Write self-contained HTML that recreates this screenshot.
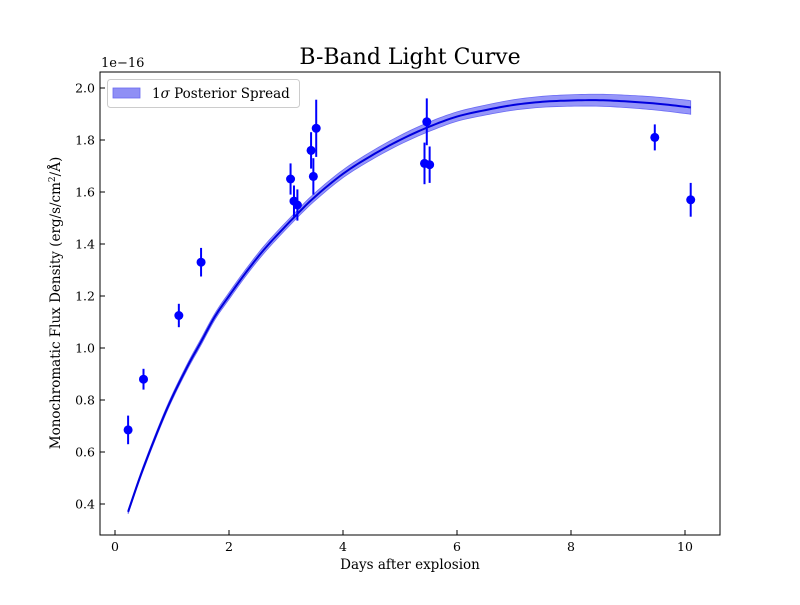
<!DOCTYPE html>
<html><head><meta charset="utf-8"><style>
body{margin:0;background:#fff}
svg text{font-family:"DejaVu Serif","Liberation Serif",serif;fill:#000}
</style></head><body>
<svg id="chart" width="800" height="600" xmlns="http://www.w3.org/2000/svg">
<rect width="800" height="600" fill="#fff"/>
<g id="band"></g>
<g id="curve"></g>
<g id="pts"></g>
<rect x="100" y="72" width="620" height="463" fill="none" stroke="#000" stroke-width="1"/>
<g id="xt"></g>
<g id="yt"></g>
<text x="410" y="64" font-size="22" text-anchor="middle">B-Band Light Curve</text>
<text x="410" y="569" font-size="13.5" text-anchor="middle">Days after explosion</text>
<text transform="translate(60,303) rotate(-90)" font-size="13.5" text-anchor="middle">Monochromatic Flux Density (erg/s/cm<tspan dy="-5" font-size="9">2</tspan><tspan dy="5">/Å)</tspan></text>
<text x="101" y="67" font-size="13">1e−16</text>
<g>
<rect x="107.5" y="79.5" width="192" height="28" rx="3" fill="#fff" stroke="#ccc"/>
<rect x="113" y="88" width="27" height="10" fill="#8f8ff5" stroke="#6a6af0" stroke-width="0.8"/>
<text x="152" y="98" font-size="13.5">1<tspan font-style="italic">σ</tspan> Posterior Spread</text>
</g>
</svg>
<script>
const ptDays=[0.23,0.5,1.12,1.51,3.08,3.14,3.2,3.44,3.48,3.53,5.43,5.47,5.52,9.47,10.1];
const ptFlux=[0.685,0.88,1.125,1.33,1.65,1.565,1.55,1.76,1.66,1.845,1.71,1.87,1.705,1.81,1.57];
const ptErr=[0.055,0.04,0.045,0.055,0.06,0.06,0.06,0.07,0.07,0.11,0.08,0.09,0.07,0.05,0.065];
const curveDays=[0.23,0.5,0.9,1.25,1.5,1.75,2,2.33,2.66,3.13,3.5,4,4.5,5,5.5,6,6.5,7,7.5,8,8.5,9,9.5,10,10.1];
const curveFlux=[0.37,0.54,0.76,0.92,1.02,1.12,1.20,1.30,1.39,1.50,1.58,1.67,1.74,1.80,1.85,1.89,1.915,1.935,1.947,1.952,1.953,1.948,1.94,1.928,1.925];
const curveSigma=[0.008,0.009,0.01,0.011,0.012,0.012,0.013,0.013,0.014,0.014,0.015,0.015,0.016,0.017,0.018,0.018,0.019,0.02,0.021,0.022,0.023,0.024,0.025,0.026,0.026];
const xTicks=[0,2,4,6,8,10];
const yTicks=[0.4,0.6,0.8,1.0,1.2,1.4,1.6,1.8,2.0];
const NS="http://www.w3.org/2000/svg";
const X=d=>115+57*d, Y=v=>504-(v-0.4)*260;
function mk(t,a,p){const e=document.createElementNS(NS,t);for(const k in a)e.setAttribute(k,a[k]);p.appendChild(e);return e;}
function smooth(vals){ // catmull-rom densify
 const out=[];const n=curveDays.length;
 for(let i=0;i<n-1;i++){
  const p0=i>0?i-1:i,p3=i+2<n?i+2:i+1;
  for(let s=0;s<8;s++){const t=s/8,t2=t*t,t3=t2*t;
   const f=(a,b,c,d)=>0.5*(2*b+(-a+c)*t+(2*a-5*b+4*c-d)*t2+(-a+3*b-3*c+d)*t3);
   out.push([f(curveDays[p0],curveDays[i],curveDays[i+1],curveDays[p3]),f(vals[p0],vals[i],vals[i+1],vals[p3])]);}
 }
 out.push([curveDays[n-1],vals[n-1]]);return out;}
const hi=smooth(curveFlux.map((v,i)=>v+curveSigma[i]));
const lo=smooth(curveFlux.map((v,i)=>v-curveSigma[i]));
const mid=smooth(curveFlux);
const band=document.getElementById('band');
const bp=mk('polygon',{points:hi.map(p=>X(p[0])+','+Y(p[1])).concat(lo.reverse().map(p=>X(p[0])+','+Y(p[1]))).join(' '),fill:'#6a6af5','fill-opacity':0.7,stroke:'#6a6af5','stroke-width':0.8},band);


const cl=mk('polyline',{points:mid.map(p=>X(p[0])+','+Y(p[1])).join(' '),fill:'none',stroke:'#0000dd','stroke-width':2,'stroke-linejoin':'round'},document.getElementById('curve'));


const pts=document.getElementById('pts');
ptDays.forEach((d,i)=>{
 const eb=mk('line',{x1:X(d),x2:X(d),y1:Y(ptFlux[i]-ptErr[i]),y2:Y(ptFlux[i]+ptErr[i]),stroke:'#0000ff','stroke-width':2},pts);
 
 
 const c=mk('circle',{cx:X(d),cy:Y(ptFlux[i]),r:4.5,fill:'#0000ff'},pts);
 
 
});
const xt=document.getElementById('xt');
xTicks.forEach(t=>{
 mk('line',{x1:X(t),x2:X(t),y1:535,y2:530,stroke:'#000'},xt);
 const tx=mk('text',{x:X(t),y:551,'font-size':12.5,'text-anchor':'middle'},xt);tx.textContent=t;
 
 
});
const yt=document.getElementById('yt');
yTicks.forEach(t=>{
 mk('line',{x1:100,x2:105,y1:Y(t),y2:Y(t),stroke:'#000'},yt);
 const tx=mk('text',{x:95,y:Y(t)+4.5,'font-size':12.5,'text-anchor':'end'},yt);tx.textContent=t.toFixed(1);
 
 
});
</script>
</body></html>
